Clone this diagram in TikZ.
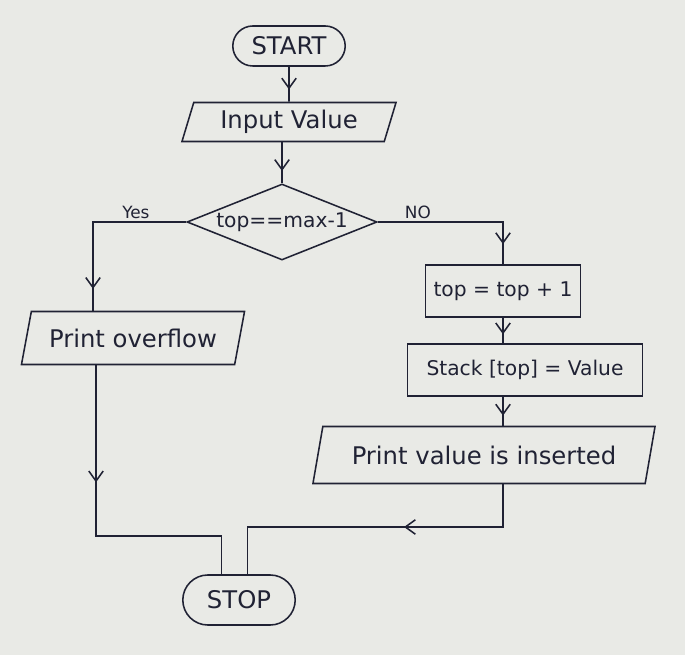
\documentclass[tikz,border=0pt]{standalone}
\usepackage{fontspec}
\setmainfont{DejaVu Sans}
\usetikzlibrary{arrows.meta,shapes.geometric,shapes.misc,decorations.markings}
\definecolor{paper}{RGB}{233,234,230}
\definecolor{ink}{RGB}{32,34,52}
\tikzset{
  box/.style={
    draw=ink,
    text=ink,
    line width=1.1pt,
    inner sep=2pt,
    align=center,
    font=\Large
  },
  term/.style={box,rounded rectangle,font=\LARGE},
  io/.style={box,trapezium,trapezium left angle=68,trapezium right angle=112,
             trapezium stretches body=true,font=\LARGE},
  proc/.style={box,rectangle},
  decide/.style={box,diamond,aspect=2.5,inner sep=0pt},
  flow/.style={draw=ink,line width=1.1pt},
  midtip/.style={flow,postaction={decorate},
    decoration={markings,mark=at position #1 with {\arrow{Straight Barb[length=2.5mm,width=3.6mm,line width=1.1pt]}}}},
  note/.style={font=\large,text=ink,inner sep=2pt}
}

\begin{document}
\begin{tikzpicture}[x=0.025cm,y=-0.025cm]
  \fill[paper] (0,0) rectangle (685,655);

  % Start, input and test.
  \node[term,minimum width=29.5mm,minimum height=10mm] (start) at (289,46) {START};
  \node[io,minimum width=53.5mm,minimum height=9.75mm] (inp) at (289,122) {Input Value};
  \node[decide,minimum width=47.5mm,minimum height=19mm] (dec) at (282,222) {top==max-1};
  \draw[midtip=0.65] (start) -- (inp);
  \draw[midtip=0.7] (dec.north |- inp.south) -- (dec.north);

  % Yes branch.
  \node[io,minimum width=55.75mm,minimum height=13.25mm] (ovf) at (133,338) {Print overflow};
  \coordinate (yesL) at (93,300);
  \draw[midtip=0.88] (dec.west) -| node[note,above,pos=0.27]{Yes} (ovf.north -| yesL);

  % No branch.
  \node[proc,minimum width=38.75mm,minimum height=13mm] (inc) at (503,291) {top = top + 1};
  \node[proc,minimum width=58.75mm,minimum height=13mm] (stk) at (525,370) {Stack [top] = Value};
  \node[io,minimum width=85.5mm,minimum height=14.25mm] (prt) at (484,455) {Print value is inserted};
  \draw[midtip=0.88] (dec.east) -| node[note,above,pos=0.16]{NO} (inc.north);
  \draw[midtip=0.65] (inc.south) -- (inc.south |- stk.north);
  \draw[midtip=0.65] (stk.south -| inc.south) -- (inc.south |- prt.north);

  % Both paths end at stop.
  \node[term,minimum width=29.5mm,minimum height=12.5mm] (stop) at (239,600) {STOP};
  \coordinate (joinL) at (96,536);
  \coordinate (joinR) at (503,527);
  \draw[midtip=0.35] (ovf.south -| joinL) -- (joinL) -| (stop.124);
  \draw[midtip=0.41] (prt.south -| joinR) -- (joinR) -| (stop.72);
\end{tikzpicture}
\end{document}
